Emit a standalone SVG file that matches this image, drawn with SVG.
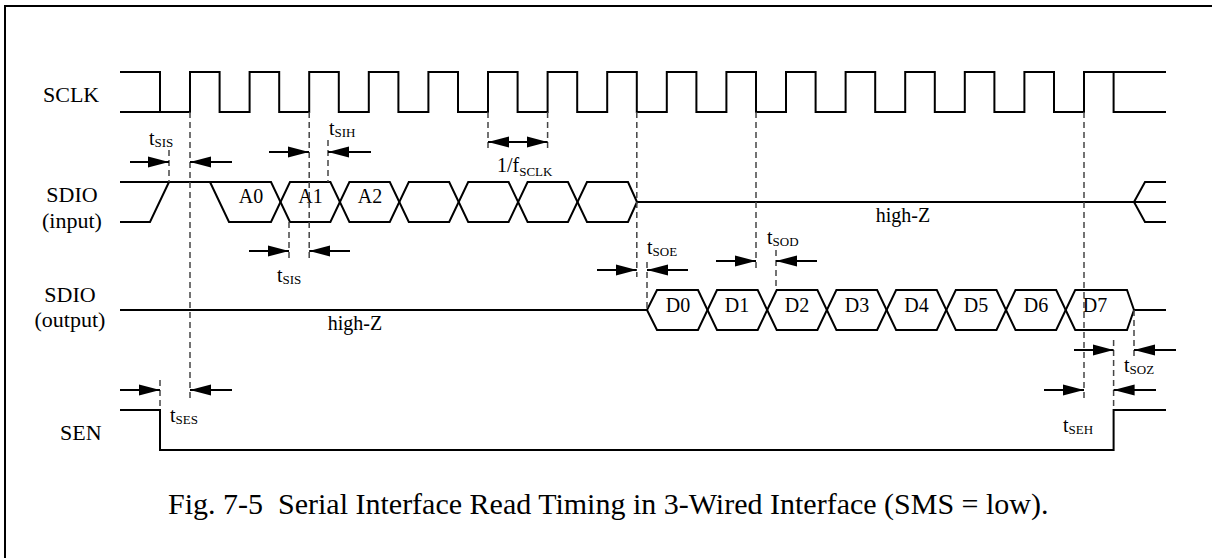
<svg xmlns="http://www.w3.org/2000/svg" width="1212" height="558" viewBox="0 0 1212 558">
<style>
.w{fill:none;stroke:#000;stroke-width:2;stroke-linejoin:miter}
.d{fill:none;stroke:#444;stroke-width:1.5;stroke-dasharray:6 4}
.a{fill:none;stroke:#000;stroke-width:2}
.lbl{font-family:"Liberation Serif","Times New Roman",serif;font-size:22px;fill:#000}
.bus{font-family:"Liberation Serif","Times New Roman",serif;font-size:20px;fill:#000;text-anchor:middle}
.t{font-family:"Liberation Serif","Times New Roman",serif;font-size:20px;fill:#000}
.sub{font-size:13px}
.cap{font-family:"Liberation Serif","Times New Roman",serif;font-size:30px;fill:#000;white-space:pre}
</style>
<defs>
<marker id="ah" markerUnits="userSpaceOnUse" markerWidth="22" markerHeight="12" refX="21" refY="6" orient="auto-start-reverse" viewBox="0 0 22 12">
<path d="M0,0.5 L21,6 L0,11.5 z" fill="#000"/>
</marker>
</defs>
<rect width="1212" height="558" fill="#fff"/>
<path d="M5,558 V6 H1212" fill="none" stroke="#000" stroke-width="2"/>

<g id="sclk">
<text class="lbl" x="43" y="102">SCLK</text>
<path class="w" d="M120,72 H160 V112 H190 V72 H219.6 V112 H249.6 V72 H279.2 V112 H309.2 V72 H338.8 V112 H368.8 V72 H398.4 V112 H428.4 V72 H458 V112 H488 V72 H517.6 V112 H547.6 V72 H577.2 V112 H607.2 V72 H636.8 V112 H666.8 V72 H696.4 V112 H726.4 V72 H756 V112 H786 V72 H815.6 V112 H845.6 V72 H875.2 V112 H905.2 V72 H934.8 V112 H964.8 V72 H994.4 V112 H1024.4 V72 H1054 V112 H1084 V72 H1166"/>
<path class="w" d="M120,112 H160 M1113.6,72 V112 H1166"/>
</g>

<g id="sdio-input">
<text class="lbl" x="72" y="202" text-anchor="middle">SDIO</text>
<text class="lbl" x="72" y="228" text-anchor="middle">(input)</text>
<path class="w" d="M120,222 H150 L169,182"/>
<path class="w" d="M120,182 H271 L290,222 H330.4 L349.4,182 H389.8 L408.8,222 H449.2 L468.2,182 H508.6 L527.6,222 H568 L587,182 H628 L637,202"/>
<path class="w" d="M210,182 L229,222 H271 L290,182 H330.4 L349.4,222 H389.8 L408.8,182 H449.2 L468.2,222 H508.6 L527.6,182 H568 L587,222 H628 L637,202"/>
<path class="w" d="M637,202 H1166 M1166,182 H1145 L1134,202 L1145,222 H1166"/>
<text class="bus" x="251" y="203">A0</text>
<text class="bus" x="310.5" y="203">A1</text>
<text class="bus" x="370" y="203">A2</text>
<text class="bus" x="903" y="222">high-Z</text>
</g>

<g id="sdio-output">
<text class="lbl" x="70" y="302" text-anchor="middle">SDIO</text>
<text class="lbl" x="70" y="327" text-anchor="middle">(output)</text>
<path class="w" d="M120,310 H647 L657,290 H698 L717,330 H757.7 L776.7,290 H817.4 L836.4,330 H877.1 L896.1,290 H936.8 L955.8,330 H996.5 L1015.5,290 H1056.2 L1075.2,330 H1127 L1134,310 H1166"/>
<path class="w" d="M647,310 L657,330 H698 L717,290 H757.7 L776.7,330 H817.4 L836.4,290 H877.1 L896.1,330 H936.8 L955.8,290 H996.5 L1015.5,330 H1056.2 L1075.2,290 H1127 L1134,310"/>
<text class="bus" x="678" y="312">D0</text>
<text class="bus" x="737" y="312">D1</text>
<text class="bus" x="797" y="312">D2</text>
<text class="bus" x="857" y="312">D3</text>
<text class="bus" x="916.5" y="312">D4</text>
<text class="bus" x="976" y="312">D5</text>
<text class="bus" x="1036" y="312">D6</text>
<text class="bus" x="1095" y="312">D7</text>
<text class="bus" x="355" y="330">high-Z</text>
</g>

<g id="sen">
<text class="lbl" x="60" y="440">SEN</text>
<path class="w" d="M120,410 H160 V450 H1113.6 V410 H1166"/>
</g>

<g id="connectors">
<path class="d" d="M169,150 V182 M190,112 V398 M309.2,112 V260 M328,140 V182 M289,222 V260 M488,112 V150 M547.6,112 V150 M636.8,112 V277 M647,262 V310 M756,112 V270 M776,250 V290 M1084,112 V398 M1113.6,340 V410 M1134,310 V358 M160,380 V410"/>
<line class="a" x1="130" y1="162" x2="169" y2="162" marker-end="url(#ah)"/>
<line class="a" x1="232" y1="162" x2="190" y2="162" marker-end="url(#ah)"/>
<line class="a" x1="269" y1="152" x2="309" y2="152" marker-end="url(#ah)"/>
<line class="a" x1="371" y1="152" x2="328" y2="152" marker-end="url(#ah)"/>
<line class="a" x1="488" y1="142" x2="547.6" y2="142" marker-start="url(#ah)" marker-end="url(#ah)"/>
<line class="a" x1="249" y1="251" x2="289" y2="251" marker-end="url(#ah)"/>
<line class="a" x1="350" y1="251" x2="309.2" y2="251" marker-end="url(#ah)"/>
<line class="a" x1="597" y1="270" x2="636.8" y2="270" marker-end="url(#ah)"/>
<line class="a" x1="688" y1="270" x2="647" y2="270" marker-end="url(#ah)"/>
<line class="a" x1="716" y1="261" x2="756" y2="261" marker-end="url(#ah)"/>
<line class="a" x1="817" y1="261" x2="776" y2="261" marker-end="url(#ah)"/>
<line class="a" x1="1074" y1="350" x2="1113.6" y2="350" marker-end="url(#ah)"/>
<line class="a" x1="1176" y1="350" x2="1134" y2="350" marker-end="url(#ah)"/>
<line class="a" x1="1044" y1="390" x2="1084" y2="390" marker-end="url(#ah)"/>
<line class="a" x1="1156" y1="390" x2="1113.6" y2="390" marker-end="url(#ah)"/>
<line class="a" x1="120" y1="390" x2="160" y2="390" marker-end="url(#ah)"/>
<line class="a" x1="232" y1="390" x2="190" y2="390" marker-end="url(#ah)"/>
</g>

<g id="timing-labels">
<text class="t" x="149" y="145">t<tspan class="sub" dy="2">SIS</tspan></text>
<text class="t" x="329" y="135">t<tspan class="sub" dy="2">SIH</tspan></text>
<text class="t" x="497" y="172">1/f<tspan class="sub" dy="4">SCLK</tspan></text>
<text class="t" x="277" y="282">t<tspan class="sub" dy="2">SIS</tspan></text>
<text class="t" x="647" y="254">t<tspan class="sub" dy="2">SOE</tspan></text>
<text class="t" x="767" y="244">t<tspan class="sub" dy="2">SOD</tspan></text>
<text class="t" x="1124" y="372">t<tspan class="sub" dy="2">SOZ</tspan></text>
<text class="t" x="1063" y="432">t<tspan class="sub" dy="2">SEH</tspan></text>
<text class="t" x="170" y="422">t<tspan class="sub" dy="2">SES</tspan></text>
</g>

<text class="cap" x="168" y="514" xml:space="preserve">Fig. 7-5  Serial Interface Read Timing in 3-Wired Interface (SMS = low).</text>
</svg>
